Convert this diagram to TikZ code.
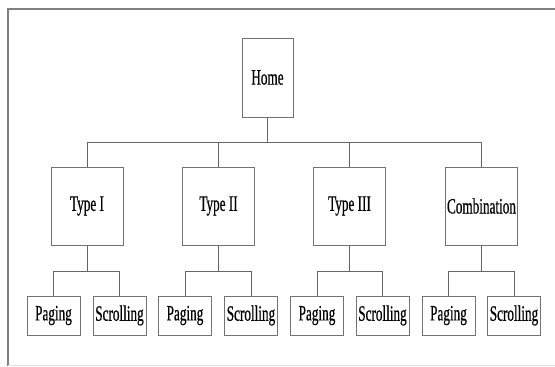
\documentclass[tikz,border=0pt]{standalone}
\usepackage{fontspec}
\setmainfont[FakeStretch=0.6,FakeBold=0.5]{Liberation Serif}
\begin{document}
\begin{tikzpicture}[x=1pt,y=-1pt,
  box/.style={draw=black!55,line width=0.9pt,fill=white,inner sep=0pt,font=\fontsize{22}{22}\selectfont},
  topbox/.style={box,minimum width=51pt,minimum height=79pt},
  midbox/.style={box,minimum width=72pt,minimum height=78pt},
  leafbox/.style={box,minimum width=53pt,minimum height=39pt},
  conn/.style={draw=black!60,line width=0.8pt}]
\useasboundingbox (0,0) rectangle (555,367);
\draw[black!50,line width=1.3pt] (555,9) -- (8,9) -- (8,366);
\draw[black!12,line width=0.8pt] (8,365) -- (555,365);
\node[topbox] (home) at (267.5,77.5) {Home};
\node[midbox] (t1) at (87,206) {Type I};
\node[midbox] (t2) at (218.5,206) {Type II};
\node[midbox] (t3) at (349.5,206) {Type III};
\node[midbox] (t4) at (481.5,206) {Combination};
\node[leafbox] (p1) at (53.5,315.5) {Paging};
\node[leafbox] (s1) at (119.5,315.5) {Scrolling};
\node[leafbox] (p2) at (185,315.5) {Paging};
\node[leafbox] (s2) at (251,315.5) {Scrolling};
\node[leafbox] (p3) at (317,315.5) {Paging};
\node[leafbox] (s3) at (382.5,315.5) {Scrolling};
\node[leafbox] (p4) at (448.5,315.5) {Paging};
\node[leafbox] (s4) at (514,315.5) {Scrolling};
\coordinate (bar) at (0,142);
\draw[conn] (home.south) -- (home.south |- bar);
\draw[conn] (t1.north) -- (t1.north |- bar) -- (t4.north |- bar) -- (t4.north);
\draw[conn] (t2.north) -- (t2.north |- bar);
\draw[conn] (t3.north) -- (t3.north |- bar);
\coordinate (lbar) at (0,271);
\foreach \t/\p/\s in {t1/p1/s1,t2/p2/s2,t3/p3/s3,t4/p4/s4}{
  \draw[conn] (\t.south) -- (\t.south |- lbar);
  \draw[conn] (\p.north) -- (\p.north |- lbar) -- (\s.north |- lbar) -- (\s.north);
}
\end{tikzpicture}
\end{document}
